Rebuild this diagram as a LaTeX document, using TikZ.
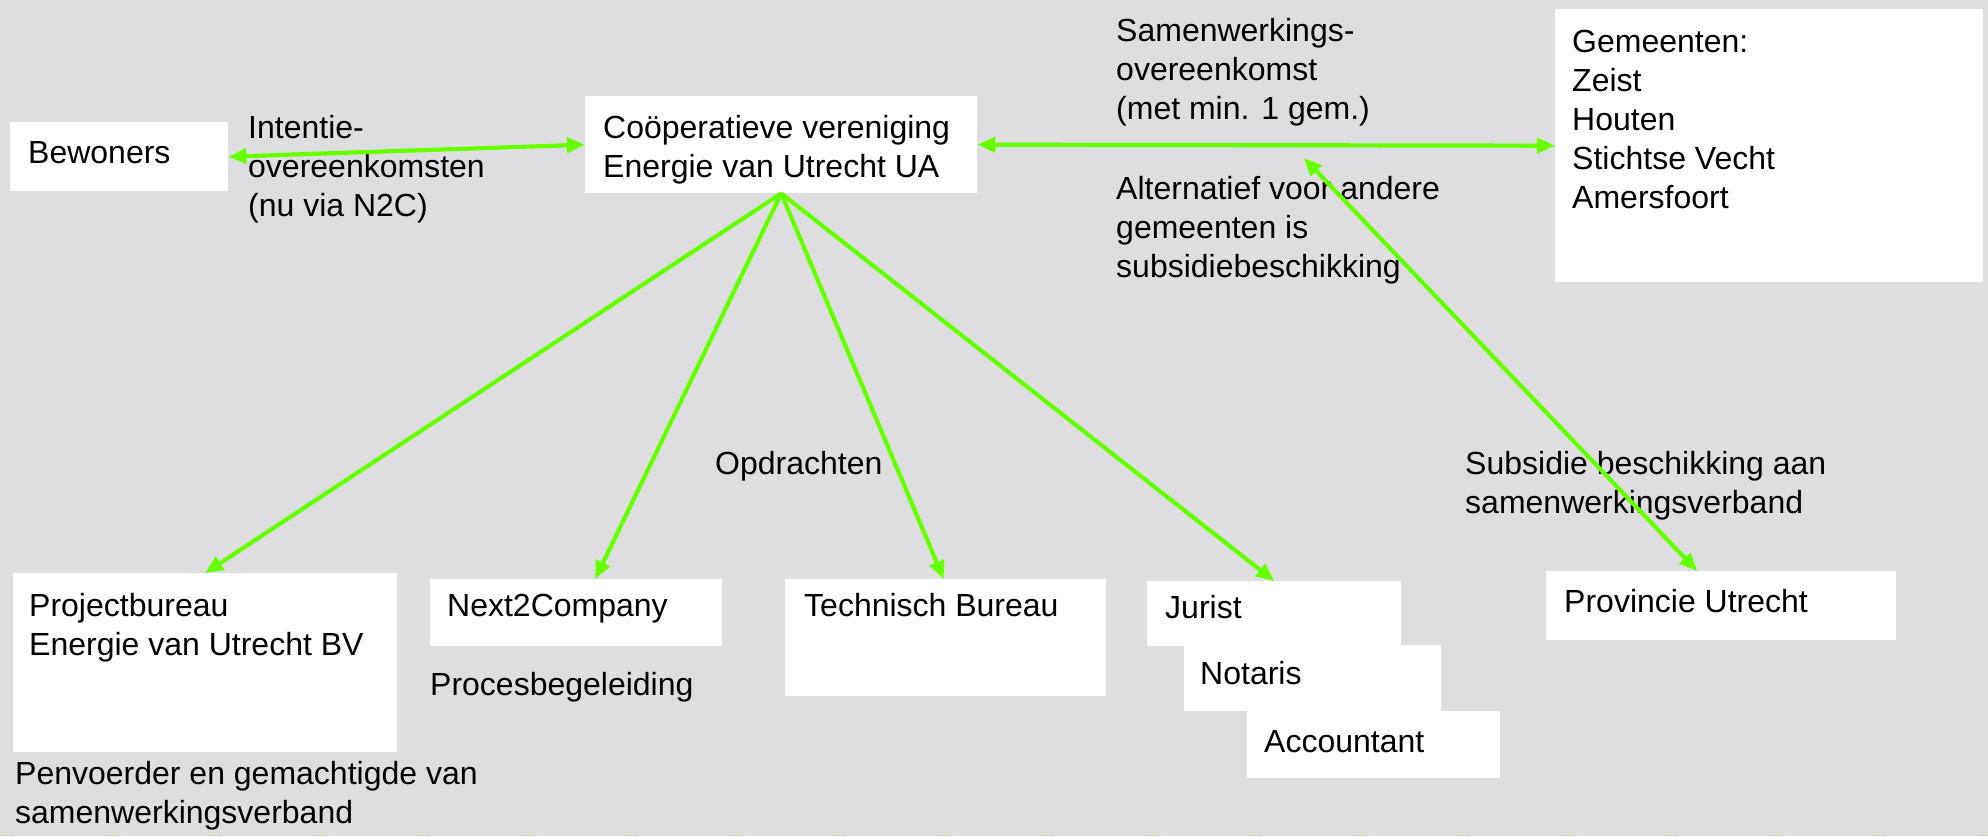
\documentclass[tikz,border=0pt]{standalone}
\usepackage{fontspec}
\setmainfont{Liberation Sans}
\usetikzlibrary{arrows.meta,calc}
\definecolor{bg}{RGB}{222,222,225}
\definecolor{lime}{RGB}{102,255,0}
\tikzset{
  box/.style={fill=white,draw=none,inner sep=0pt,anchor=north west},
  txt/.style={inner sep=0pt,anchor=base west,align=left,font=\fontsize{32}{39}\selectfont},
  tipk/.tip={Triangle[length=18pt,width=15pt]},
  arr/.style={draw=lime,line width=4.2pt,-tipk},
  darr/.style={draw=lime,line width=4.2pt,tipk-tipk}
}
\begin{document}
\begin{tikzpicture}[x=1pt,y=-1pt]
\useasboundingbox (0,0) rectangle (1988,836);
\fill[bg] (0,0) rectangle (1988,836);
\draw[lime!35!bg,dash pattern=on 14pt off 90pt,line width=1.5pt] (0,835.5) -- (1988,835.5);
% boxes
\node[box,minimum width=218pt,minimum height=69pt] (bew) at (10,122) {};
\node[box,minimum width=392pt,minimum height=97pt] (coop) at (585,96) {};
\node[box,minimum width=428pt,minimum height=273pt] (gem) at (1555,9) {};
\node[box,minimum width=384pt,minimum height=179pt] (pb) at (13,573) {};
\node[box,minimum width=292pt,minimum height=67pt] (n2c) at (430,579) {};
\node[box,minimum width=321pt,minimum height=117pt] (tb) at (785,579) {};
\node[box,minimum width=254pt,minimum height=65pt] (jur) at (1147,581) {};
\node[box,minimum width=257pt,minimum height=66pt] (not) at (1184,645) {};
\node[box,minimum width=253pt,minimum height=67pt] (acc) at (1247,711) {};
\node[box,minimum width=350pt,minimum height=69pt] (prov) at (1546,571) {};
% texts (base anchor = baseline of the last line)
\node[txt] (tbew) at (28,163) {Bewoners};
\node[txt] (tcoop) at (603,177) {Coöperatieve vereniging\\Energie van Utrecht UA};
\node[txt] (tgem) at (1572,208) {Gemeenten:\\Zeist\\Houten\\Stichtse Vecht\\Amersfoort};
\node[txt] (tint) at (248,216) {Intentie-\\overeenkomsten\\(nu via N2C)};
\node[txt] (tsam) at (1116,119) {Samenwerkings-\\overeenkomst\\(met min. 1 gem.)};
\node[txt] (talt) at (1116,277) {Alternatief voor andere\\gemeenten is\\subsidiebeschikking};
\node[txt] (tsub) at (1465,513) {Subsidie beschikking aan\\samenwerkingsverband};
\node[txt] (topd) at (715,474) {Opdrachten};
\node[txt] (tpb) at (29,655) {Projectbureau\\Energie van Utrecht BV};
\node[txt] (tpen) at (15,823) {Penvoerder en gemachtigde van\\samenwerkingsverband};
\node[txt] (tn2c) at (447,616) {Next2Company};
\node[txt] (tproc) at (430,695) {Procesbegeleiding};
\node[txt] (ttb) at (804,616) {Technisch Bureau};
\node[txt] (tjur) at (1165,618) {Jurist};
\node[txt] (tnot) at (1200,684) {Notaris};
\node[txt] (tacc) at (1264,752) {Accountant};
\node[txt] (tprov) at (1564,612) {Provincie Utrecht};
% connectors
\coordinate (hit) at (1304,158);
\draw[darr] (bew.east) -- (coop.west);
\draw[darr] (coop.east) -- (gem.west);
\draw[arr] (coop.south) -- (pb.north);
\draw[arr] (coop.south) -- ([xshift=19pt]n2c.north);
\draw[arr] (coop.south) -- ([xshift=-2pt]tb.north);
\draw[arr] (coop.south) -- (jur.north);
\draw[darr] ([xshift=-24pt]prov.north) -- (hit);
\end{tikzpicture}
\end{document}
